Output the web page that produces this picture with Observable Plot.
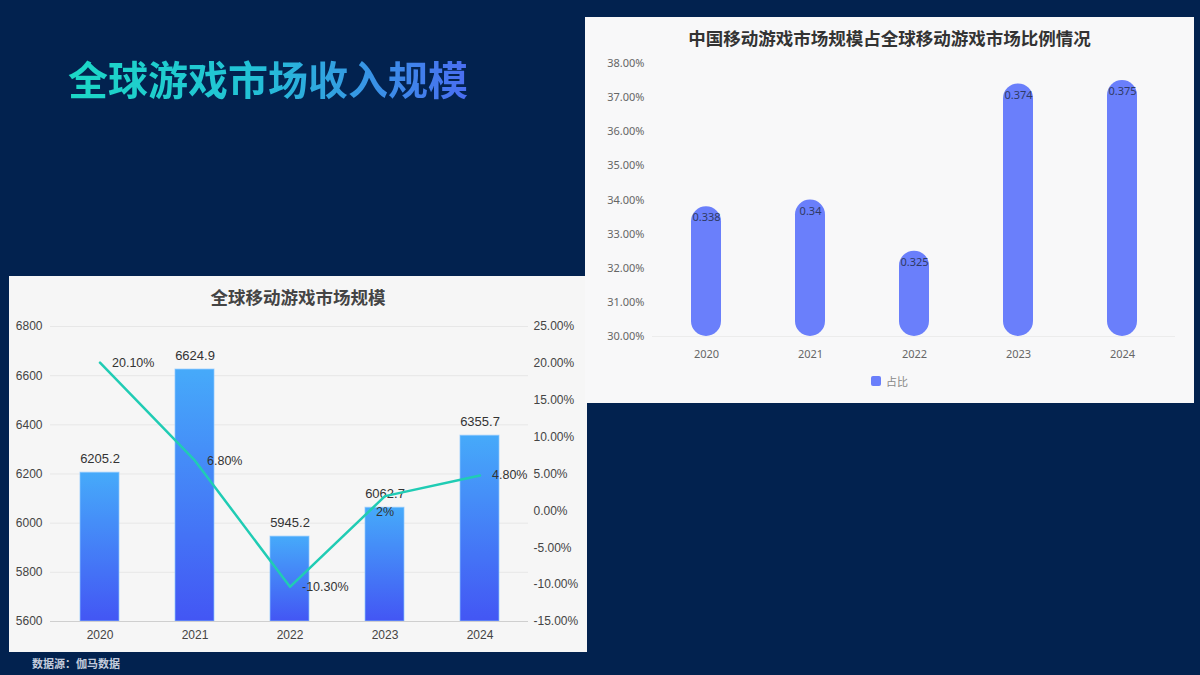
<!DOCTYPE html>
<html>
<head>
<meta charset="utf-8">
<script src="https://cdn.jsdelivr.net/npm/d3@7"></script>
<script src="https://cdn.jsdelivr.net/npm/@observablehq/plot@0.6"></script>
<style>
  html, body { margin: 0; padding: 0; }
  body { width: 1200px; height: 675px; background: #02224f; position: relative; overflow: hidden; }
  #title {
    position: absolute; left: 68px; top: 55px;
    font: 700 40px "Noto Sans CJK SC", sans-serif; line-height: 46px;
    background: linear-gradient(90deg, #1cd8c6 0%, #22c3d6 45%, #4a6df2 100%);
    -webkit-background-clip: text; background-clip: text; color: transparent;
    white-space: nowrap;
  }
  .panel { position: absolute; overflow: hidden; }
  .panel svg { position: absolute; left: 0; top: 0; }
  .ptitle {
    position: absolute; left: 0; right: 0; top: 10px; text-align: center;
    font: 700 17.5px "Noto Sans CJK SC", sans-serif; line-height: 22px; white-space: nowrap;
  }
  #left { left: 9px; top: 276px; width: 578px; height: 376px; background: #f6f6f6; }
  #right { left: 585px; top: 17px; width: 609px; height: 386px; background: #f8f8f9; }
  #source {
    position: absolute; left: 32px; top: 655px;
    font: 700 11px "Noto Sans CJK SC", sans-serif; line-height: 16px; color: #c3cbdc;
  }
  #legend {
    position: absolute; left: 286px; top: 356px; display: flex; align-items: center;
    font: 11px "Noto Sans CJK SC", sans-serif; color: #888;
  }
  #legend .sw { width: 10px; height: 10px; border-radius: 2px; background: #6a7ffb; margin-right: 5px; }
</style>
</head>
<body>
<div id="title">全球游戏市场收入规模</div>
<div id="left" class="panel"><div class="ptitle" style="color:#444">全球移动游戏市场规模</div></div>
<div id="right" class="panel"><div class="ptitle" style="color:#333">中国移动游戏市场规模占全球移动游戏市场比例情况</div>
  <div id="legend"><div class="sw"></div><span>占比</span></div>
</div>
<div id="source">数据源：伽马数据</div>
<script>
// ---- data ----
const years = ["2020", "2021", "2022", "2023", "2024"];
const marketSize = [6205.2, 6624.9, 5945.2, 6062.7, 6355.7];
const growth = [0.201, 0.068, -0.103, 0.02, 0.048];
const growthLabels = ["20.10%", "6.80%", "-10.30%", "2%", "4.80%"];
const sizeTicks = [5600, 5800, 6000, 6200, 6400, 6600, 6800];
const growthTicks = [-0.15, -0.10, -0.05, 0, 0.05, 0.10, 0.15, 0.20, 0.25];
const chinaShare = [0.338, 0.34, 0.325, 0.374, 0.375];
const shareTicks = [0.30, 0.31, 0.32, 0.33, 0.34, 0.35, 0.36, 0.37, 0.38];
const belowLabelYear = "2023";

const sizeData = years.map((year, i) => ({year, v: marketSize[i]}));
const growthData = years.map((year, i) => ({year, g: growth[i], label: growthLabels[i]}));
const shareData = years.map((year, i) => ({year, s: chinaShare[i]}));
const pct = d => (d * 100).toFixed(2) + "%";

// ---- left chart: bars + growth line (overlaid, shared x) ----
const L = {width: 578, height: 376, marginTop: 50, marginBottom: 31, marginLeft: 41, marginRight: 59};
const leftFont = {fontSize: "12px", fontFamily: "'Liberation Sans', Arial, sans-serif", color: "#444", background: "transparent"};
const xLeft = {type: "band", domain: years, paddingInner: 0.59, paddingOuter: 0.295, tickSize: 0, tickPadding: 9, label: null};

const barsSvg = Plot.plot({
  ...L,
  style: leftFont,
  x: {...xLeft, fontSize: 11},
  y: {domain: [sizeTicks[0], sizeTicks[sizeTicks.length - 1]], ticks: sizeTicks, tickFormat: d => String(d), tickSize: 0, tickPadding: 8, label: null},
  marks: [
    Plot.ruleY(sizeTicks, {stroke: "#e7e7e7"}),
    Plot.barY(sizeData, {x: "year", y1: sizeTicks[0], y2: "v", fill: "url(#barGrad)", stroke: "#8cc8ff", strokeWidth: 1, strokeOpacity: 0.7}),
    Plot.ruleY([sizeTicks[0]], {stroke: "#cfcfcf"}),
    Plot.text(sizeData, {x: "year", y: "v", text: d => String(d.v), dy: -14, fontSize: 13, fill: "#333"})
  ]
});
const defs = d3.select(barsSvg).insert("defs", ":first-child");
const grad = defs.append("linearGradient").attr("id", "barGrad").attr("x1", 0).attr("y1", 0).attr("x2", 0).attr("y2", 1);
grad.append("stop").attr("offset", "0%").attr("stop-color", "#46aafa");
grad.append("stop").attr("offset", "100%").attr("stop-color", "#4356f4");
document.getElementById("left").appendChild(barsSvg);

const lineSvg = Plot.plot({
  ...L,
  style: leftFont,
  x: {...xLeft, axis: null},
  y: {domain: [growthTicks[0], growthTicks[growthTicks.length - 1]], ticks: growthTicks, tickFormat: pct, axis: "right", tickSize: 0, tickPadding: 5, label: null},
  marks: [
    Plot.line(growthData, {x: "year", y: "g", stroke: "#20ccb4", strokeWidth: 2.5}),
    Plot.text(growthData.filter(d => d.year !== belowLabelYear), {x: "year", y: "g", text: "label", dx: 12, textAnchor: "start", fontSize: 12.5, fill: "#333"}),
    Plot.text(growthData.filter(d => d.year === belowLabelYear), {x: "year", y: "g", text: "label", dy: 16, fontSize: 12.5, fill: "#333"})
  ]
});
document.getElementById("left").appendChild(lineSvg);

// ---- right chart: China share, rounded bars ----
const shareSvg = Plot.plot({
  width: 609, height: 386, marginTop: 46, marginBottom: 67, marginLeft: 67, marginRight: 19,
  style: {fontSize: "11px", fontFamily: "'Noto Sans', 'Noto Sans CJK SC', sans-serif", color: "#666", background: "transparent"},
  x: {type: "band", domain: years, paddingInner: 0.713, paddingOuter: 0.3565, tickSize: 0, tickPadding: 14, label: null},
  y: {domain: [shareTicks[0], shareTicks[shareTicks.length - 1]], ticks: shareTicks, tickFormat: pct, tickSize: 0, tickPadding: 8, label: null},
  marks: [
    Plot.ruleY([shareTicks[0]], {stroke: "#ececec"}),
    Plot.barY(shareData, {x: "year", y1: shareTicks[0], y2: "s", rx: 15, fill: "#6a7ffb"}),
    Plot.text(shareData, {x: "year", y: "s", text: d => String(d.s), dy: 11, fontSize: 11, fill: "#2f3a66"})
  ]
});
document.getElementById("right").insertBefore(shareSvg, document.getElementById("legend"));
</script>
</body>
</html>
